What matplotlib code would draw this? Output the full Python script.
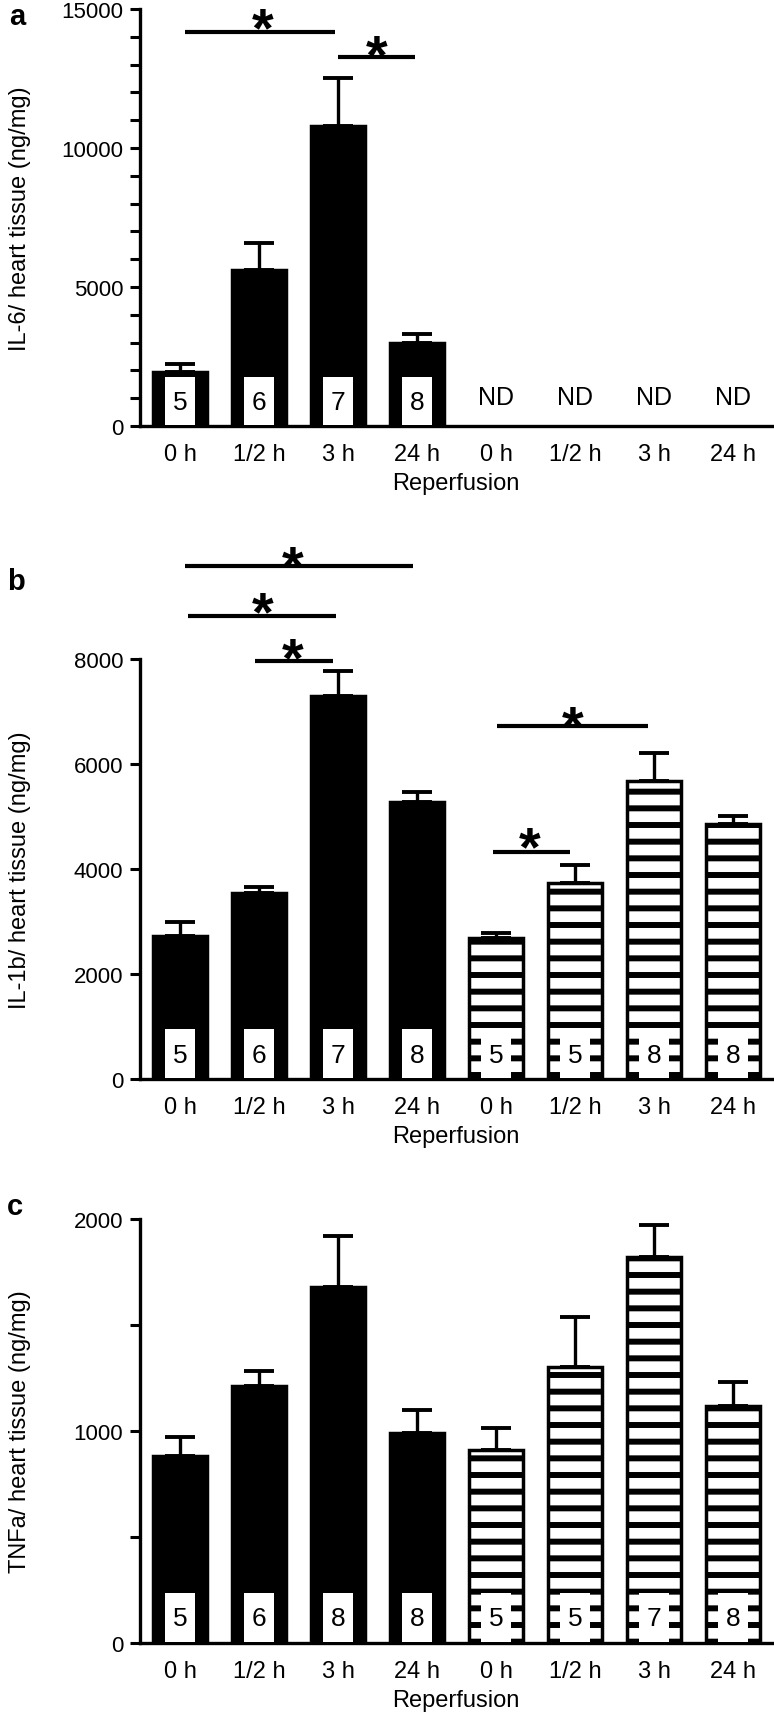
import numpy as np
import matplotlib
matplotlib.use("Agg")
import matplotlib.pyplot as plt
import matplotlib.transforms as mtransforms

plt.rcParams['font.family'] = ['Liberation Sans', 'DejaVu Sans']
plt.rcParams['hatch.linewidth'] = 4.3
plt.rcParams['hatch.color'] = 'black'

# Data
labels = ['0 h', '1/2 h', '3 h', '24 h', '0 h', '1/2 h', '3 h', '24 h']

il6_mean = [1930, 5600, 10800, 2990]
il6_err = [300, 980, 1720, 320]
il6_n = ['5', '6', '7', '8']

il1b_mean = [2720, 3540, 7300, 5270, 2680, 3730, 5680, 4860]
il1b_err = [270, 120, 470, 190, 100, 350, 530, 150]
il1b_n = ['5', '6', '7', '8', '5', '5', '8', '8']

tnf_mean = [880, 1210, 1680, 990, 910, 1300, 1820, 1120]
tnf_err = [90, 75, 240, 110, 105, 240, 150, 110]
tnf_n = ['5', '6', '8', '8', '5', '5', '7', '8']

# significance brackets: start, end, height, star x, star y
il6_sig_x0 = [0.06, 2.0]
il6_sig_x1 = [1.96, 2.97]
il6_sig_y = [14170, 13270]
il6_star_x = [1.05, 2.49]
il6_star_y = [14890, 13920]

il1b_sig_x0 = [0.06, 0.1, 0.95, 4.01, 3.96]
il1b_sig_x1 = [2.95, 1.97, 1.94, 5.92, 4.94]
il1b_sig_y = [9770, 8820, 7960, 6720, 4320]
il1b_star_x = [1.43, 1.04, 1.43, 4.97, 4.42]
il1b_star_y = [10060, 9200, 8320, 7010, 4720]

W, H = 774, 1724
fig = plt.figure(figsize=(W / 100, H / 100), dpi=100)


def make_axes(top_px, bottom_px):
    left, right = 140, 772
    return fig.add_axes([left / W, 1 - bottom_px / H, (right - left) / W, (bottom_px - top_px) / H])


def draw_panel(ax, means, errs, ns, ymax, major, minor, ylabel):
    x = np.arange(len(means))
    hatch = [None if i < 4 else '-' for i in x]
    for xi, m, h in zip(x, means, hatch):
        if h is None:
            ax.bar(xi, m, width=0.68, color='black', edgecolor='black', linewidth=2.5, zorder=2)
        else:
            ax.bar(xi, m, width=0.68, color='white', edgecolor='black', hatch=h, linewidth=2.5, zorder=2)
    ax.errorbar(x, means, yerr=[np.zeros(len(errs)), errs], fmt='none', ecolor='black',
                elinewidth=2.4, capsize=11, capthick=2.8, zorder=1)
    # n boxes at the foot of each bar
    trans = mtransforms.blended_transform_factory(ax.transData, ax.transAxes)
    for xi, n in zip(x, ns):
        ax.add_patch(plt.Rectangle((xi - 0.19, 0.003), 0.38, 0.115, transform=trans,
                                   facecolor='white', edgecolor='none', zorder=3))
        ax.text(xi, 0.058, n, transform=trans, ha='center', va='center', fontsize=19, zorder=4)

    ax.set_xlim(-0.506, 7.49)
    ax.set_ylim(0, ymax)
    ax.set_xticks(np.arange(8))
    ax.set_xticklabels(labels, fontsize=17)
    ax.set_yticks(major)
    ax.set_yticklabels([str(v) for v in major], fontsize=16)
    ax.set_yticks(minor, minor=True)
    ax.tick_params(axis='x', length=0, pad=12)
    ax.tick_params(axis='y', which='both', length=7, width=2.2, pad=5)
    for s in ['top', 'right']:
        ax.spines[s].set_visible(False)
    for s in ['left', 'bottom']:
        ax.spines[s].set_linewidth(2.4)
    ax.set_xlabel('Reperfusion', fontsize=17, labelpad=5)
    # y label placed in figure coords
    pos = ax.get_position()
    fig.text(20 / W, (pos.y0 + pos.y1) / 2, ylabel, rotation=90, ha='center', va='center', fontsize=17)


def draw_sig(ax, x0s, x1s, ys, sx, sy):
    for a, b, y in zip(x0s, x1s, ys):
        ax.plot([a, b], [y, y], color='black', lw=3, solid_capstyle='butt', clip_on=False)
    for xs, ys_ in zip(sx, sy):
        ax.annotate('*', (xs, ys_), xytext=(0, -0.59 * 40), textcoords='offset points',
                    ha='center', va='baseline', fontsize=40, fontweight='bold', annotation_clip=False)


# panel a
ax_a = make_axes(10, 427)
draw_panel(ax_a, il6_mean, il6_err, il6_n, 15000, [0, 5000, 10000, 15000],
           np.arange(1000, 15000, 1000), 'IL-6/ heart tissue (ng/mg)')
for xi in range(4, 8):
    ax_a.text(xi, 1050, 'ND', ha='center', va='center', fontsize=18)
draw_sig(ax_a, il6_sig_x0, il6_sig_x1, il6_sig_y, il6_star_x, il6_star_y)

# panel b
ax_b = make_axes(660, 1080)
draw_panel(ax_b, il1b_mean, il1b_err, il1b_n, 8000, [0, 2000, 4000, 6000, 8000], [],
           'IL-1b/ heart tissue (ng/mg)')
draw_sig(ax_b, il1b_sig_x0, il1b_sig_x1, il1b_sig_y, il1b_star_x, il1b_star_y)

# panel c
ax_c = make_axes(1220, 1644)
draw_panel(ax_c, tnf_mean, tnf_err, tnf_n, 2000, [0, 1000, 2000], [500, 1500],
           'TNFa/ heart tissue (ng/mg)')

fig.text(17 / W, 1 - 17 / H, 'a', fontsize=21, fontweight='bold', ha='center', va='center')
fig.text(16 / W, 1 - 582 / H, 'b', fontsize=21, fontweight='bold', ha='center', va='center')
fig.text(15 / W, 1 - 1207 / H, 'c', fontsize=21, fontweight='bold', ha='center', va='center')

fig.savefig('out.png', dpi=100)
